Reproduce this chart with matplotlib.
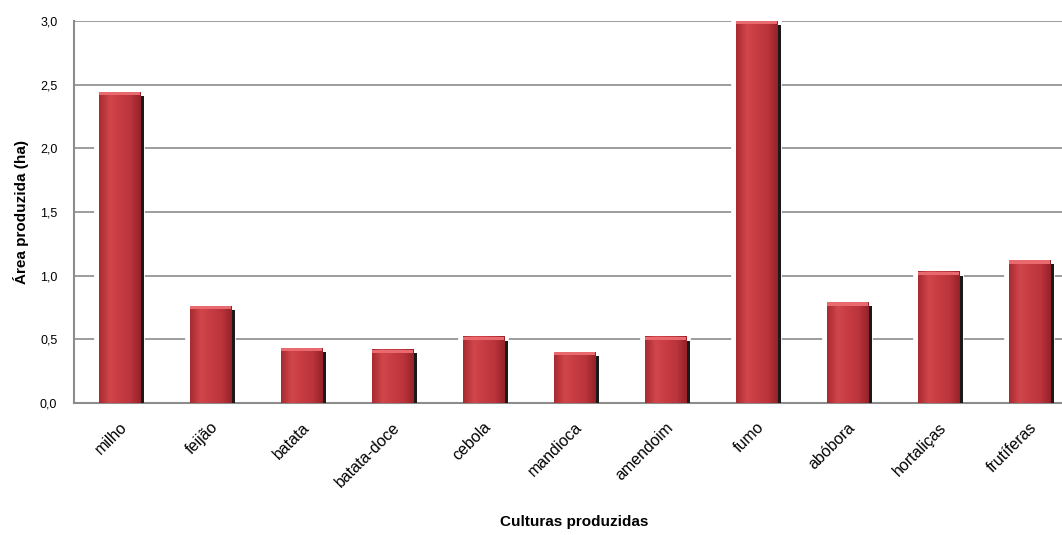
import numpy as np
import matplotlib.pyplot as plt
from matplotlib.colors import LinearSegmentedColormap
from matplotlib.ticker import FuncFormatter

plt.rcParams['font.family'] = ['Liberation Sans', 'DejaVu Sans']

culturas = ['milho', 'feijão', 'batata', 'batata-doce', 'cebola', 'mandioca',
            'amendoim', 'fumo', 'abóbora', 'hortaliças', 'frutíferas']
area_ha = [2.44, 0.76, 0.43, 0.42, 0.52, 0.40, 0.52, 3.0, 0.79, 1.03, 1.12]

fig = plt.figure(figsize=(10.62, 5.35), dpi=100)
ax = fig.add_axes([74 / 1062, 132 / 535, 1001 / 1062, 382 / 535])

x = np.arange(len(culturas))
width = 0.46

# horizontal shading across each bar: dark edges, brighter centre-left
shade = LinearSegmentedColormap.from_list(
    'shade', ['#a82a30', '#d0464b', '#c63c42', '#bc353c', '#96222a'])
grad = np.linspace(0, 1, 64).reshape(1, -1)

# white halo that interrupts the gridlines around each bar
ax.bar(x, area_ha, width=width, color='white', edgecolor='white',
       linewidth=7, zorder=2)
# drop shadow on the right side
ax.bar(x + 0.035, [v - 0.03 for v in area_ha], width=width, color='#1a1a1a',
       zorder=3)
bars = ax.bar(x, area_ha, width=width, color='#c0393e', zorder=4)
for b in bars:
    x0, w, h = b.get_x(), b.get_width(), b.get_height()
    ax.imshow(grad, cmap=shade, aspect='auto', zorder=5,
              extent=(x0, x0 + w, 0, h), interpolation='bicubic')
    # lighter cap on top of each bar
    ax.bar(x0 + w / 2, 0.025, bottom=h - 0.025, width=w, color='#e86a6e',
           zorder=6)

ax.set_xlim(-0.5, len(culturas) - 0.5)
ax.set_ylim(0, 3.0)
ax.set_yticks(np.arange(0, 3.01, 0.5))
ax.yaxis.set_major_formatter(FuncFormatter(lambda v, _: f'{v:.1f}'.replace('.', ',')))
ax.grid(axis='y', color='#8c8c8c', linewidth=1.2, zorder=1)
ax.set_axisbelow(True)

for side in ['top', 'right']:
    ax.spines[side].set_visible(False)
for side in ['left', 'bottom']:
    ax.spines[side].set_color('#8c8c8c')
    ax.spines[side].set_linewidth(1.5)

ax.tick_params(axis='y', length=0, pad=12, labelsize=9)
ax.tick_params(axis='x', length=0, pad=12, labelsize=11.5)
ax.set_xticks(x)
ax.set_xticklabels(culturas, rotation=45, ha='right', rotation_mode='anchor')

ax.set_ylabel('Área produzida (ha)', fontsize=11, fontweight='bold', labelpad=8)
ax.set_xlabel('Culturas produzidas', fontsize=11, fontweight='bold', labelpad=18)

fig.savefig('out.png', dpi=100)
